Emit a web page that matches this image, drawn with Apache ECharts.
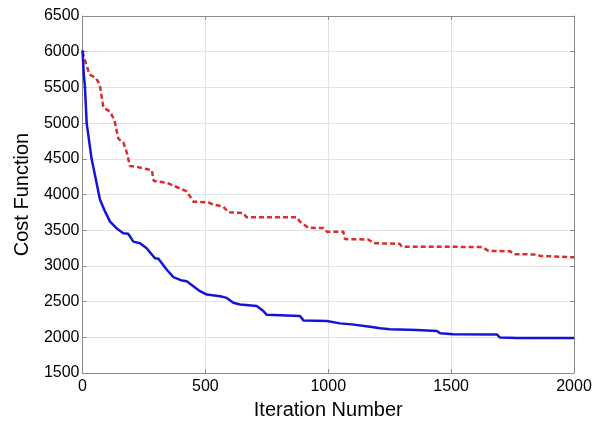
<!DOCTYPE html>
<html>
<head>
<meta charset="utf-8">
<script src="https://cdn.jsdelivr.net/npm/echarts@6/dist/echarts.min.js"></script>
<style>
  html, body { margin: 0; padding: 0; background: #fff; }
  #chart { width: 595px; height: 425px; }
</style>
</head>
<body>
<div id="chart"></div>
<script>
// tick values
const xTicks = [0, 500, 1000, 1500, 2000];
const yTicks = [1500, 2000, 2500, 3000, 3500, 4000, 4500, 5000, 5500, 6000, 6500];

// red dashed curve: [iteration, cost]
const redCurve = [
  [0, 6000], [8, 5900], [25, 5720], [30, 5680], [55, 5630], [70, 5540],
  [85, 5220], [112, 5160], [130, 5040], [146, 4780], [166, 4730], [180, 4590],
  [193, 4400], [230, 4380], [282, 4340], [290, 4190], [343, 4165], [383, 4105],
  [424, 4045], [451, 3900], [512, 3890], [532, 3860], [573, 3830], [594, 3750],
  [654, 3740], [668, 3680], [872, 3680], [885, 3620], [919, 3535], [980, 3530],
  [994, 3480], [1061, 3480], [1068, 3375], [1163, 3370], [1184, 3317], [1290, 3310],
  [1299, 3270], [1625, 3265], [1652, 3210], [1740, 3205], [1753, 3165], [1849, 3160],
  [1862, 3140], [2000, 3120]
];

// blue solid curve: [iteration, cost]
const blueCurve = [
  [0, 6020], [5, 5700], [10, 5500], [17, 5000], [37, 4500], [58, 4150],
  [71, 3930], [92, 3760], [112, 3620], [139, 3525], [166, 3456], [186, 3450],
  [207, 3340], [234, 3317], [261, 3247], [295, 3108], [309, 3100], [343, 2946],
  [370, 2844], [400, 2800], [424, 2784], [451, 2715], [478, 2645], [506, 2598],
  [560, 2576], [587, 2552], [614, 2483], [641, 2459], [709, 2437], [736, 2367],
  [750, 2315], [885, 2298], [899, 2237], [994, 2228], [1048, 2195], [1096, 2181],
  [1170, 2149], [1211, 2126], [1251, 2112], [1360, 2103], [1442, 2089], [1455, 2056],
  [1509, 2042], [1686, 2040], [1699, 1996], [1767, 1990], [2000, 1990]
];

const font = "Liberation Sans";
const frame = "#8a8a8a";

function xAxis(pos, main) {
  return {
    type: "value",
    position: pos,
    min: xTicks[0],
    max: xTicks[xTicks.length - 1],
    interval: xTicks[1] - xTicks[0],
    name: main ? "Iteration Number" : "",
    nameLocation: "middle",
    nameGap: 27,
    nameTextStyle: { fontFamily: font, fontSize: 20, color: "#000" },
    axisLine: { show: true, onZero: false, lineStyle: { color: frame, width: 1 } },
    axisTick: { show: true, inside: true, length: 4, lineStyle: { color: frame } },
    axisLabel: {
      show: main, margin: 6, fontFamily: font, fontSize: 16, color: "#000",
      formatter: (v) => String(v)
    },
    splitLine: { show: main, lineStyle: { color: "#e2e2e2", width: 1 } }
  };
}

function yAxis(pos, main) {
  return {
    type: "value",
    position: pos,
    min: yTicks[0],
    max: yTicks[yTicks.length - 1],
    interval: yTicks[1] - yTicks[0],
    name: main ? "Cost Function" : "",
    nameLocation: "middle",
    nameGap: 50,
    nameTextStyle: { fontFamily: font, fontSize: 20, color: "#000" },
    axisLine: { show: true, onZero: false, lineStyle: { color: frame, width: 1 } },
    axisTick: { show: true, inside: true, length: 4, lineStyle: { color: frame } },
    axisLabel: {
      show: main, margin: 3, fontFamily: font, fontSize: 16, color: "#000",
      formatter: (v) => String(v)
    },
    splitLine: { show: main, lineStyle: { color: "#e2e2e2", width: 1 } }
  };
}

const chart = echarts.init(document.getElementById("chart"));

chart.setOption({
  animation: false,
  grid: { left: 82.5, right: 21, top: 16, bottom: 49.5 },
  xAxis: [xAxis("bottom", true), xAxis("top", false)],
  yAxis: [yAxis("left", true), yAxis("right", false)],
  series: [
    {
      type: "line",
      data: redCurve,
      showSymbol: false,
      lineStyle: { color: "#dd2a2a", width: 2.5, type: [5, 3] },
      z: 3
    },
    {
      type: "line",
      data: blueCurve,
      showSymbol: false,
      lineStyle: { color: "#1414d8", width: 2.5 },
      z: 4
    }
  ]
});
</script>
</body>
</html>
